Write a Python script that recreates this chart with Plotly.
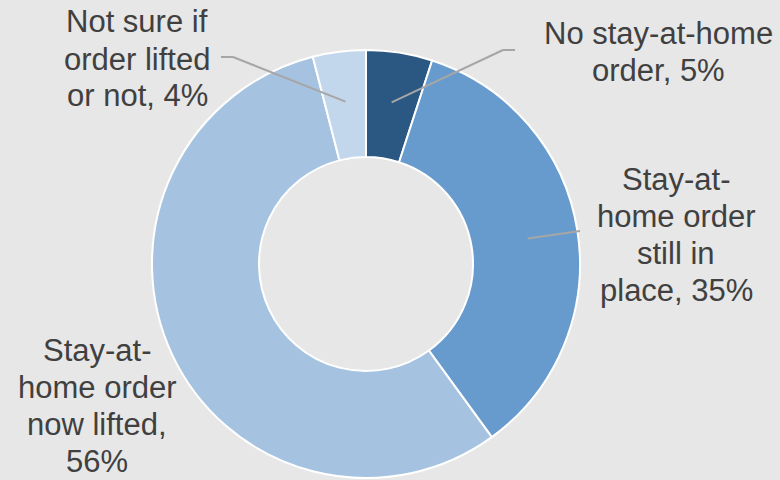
import math
import plotly.graph_objects as go

categories = ["No stay-at-home order", "Stay-at-home order still in place",
              "Stay-at-home order now lifted", "Not sure if order lifted or not"]
values = [5, 35, 56, 4]
label_lines = [
    ["No stay-at-home", "order, 5%"],
    ["Stay-at-", "home order", "still in", "place, 35%"],
    ["Stay-at-", "home order", "now lifted,", "56%"],
    ["Not sure if", "order lifted", "or not, 4%"],
]
colors = ["#2b5783", "#679bcd", "#a5c3e1", "#c3d7ec"]

W, H = 780, 480
CX, CY, R = 366, 264, 214

# label block centres (pixels) and leader elbow points
label_pos = [(658, 52), (676, 235), (97, 406), (137, 59)]
elbows = [[(503, 50), (515, 50)], [(580, 231)], None, [(233, 57), (221, 57)]]
LINE_H = 37
FONT = 31

fig = go.Figure(go.Pie(
    labels=categories, values=values, hole=0.5, sort=False, direction="clockwise",
    rotation=0, marker=dict(colors=colors, line=dict(color="white", width=2)),
    textinfo="none", hoverinfo="label+percent", showlegend=False,
    domain=dict(x=[(CX - R) / W, (CX + R) / W], y=[(H - CY - R) / H, (H - CY + R) / H]),
))

def px(x, y):
    return x / W, 1 - y / H

total = sum(values)
cum = 0
annotations = []
shapes = []
for i, v in enumerate(values):
    mid = (cum + v / 2) / total * 2 * math.pi
    cum += v
    # anchor inside the ring along slice mid-angle
    ar = R * 0.765
    ax = CX + ar * math.sin(mid)
    ay = CY - ar * math.cos(mid)
    if elbows[i]:
        pts = [(ax, ay)] + elbows[i]
        for (x0, y0), (x1, y1) in zip(pts[:-1], pts[1:]):
            a0 = px(x0, y0); a1 = px(x1, y1)
            shapes.append(dict(type="line", xref="paper", yref="paper",
                               x0=a0[0], y0=a0[1], x1=a1[0], y1=a1[1],
                               line=dict(color="#a6a6a6", width=2)))
    lx, ly = label_pos[i]
    n = len(label_lines[i])
    for j, t in enumerate(label_lines[i]):
        yy = ly + (j - (n - 1) / 2) * LINE_H
        p = px(lx, yy)
        annotations.append(dict(text=t, x=p[0], y=p[1], xref="paper", yref="paper",
                                showarrow=False, xanchor="center", yanchor="middle",
                                font=dict(family="Liberation Sans, Arial", size=FONT, color="#404040")))

fig.update_layout(width=W, height=H, margin=dict(l=0, r=0, t=0, b=0),
                  paper_bgcolor="#e7e7e7", plot_bgcolor="#e7e7e7",
                  annotations=annotations, shapes=shapes)
fig.write_html("out.html")
